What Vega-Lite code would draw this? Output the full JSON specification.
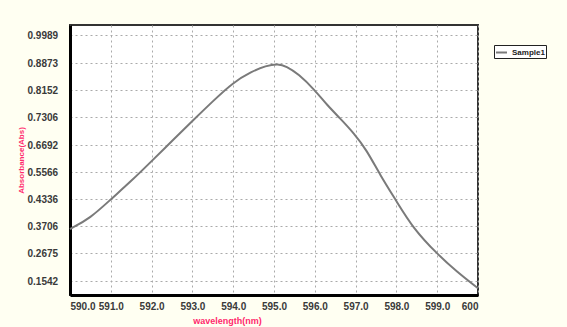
{
  "$schema": "https://vega.github.io/schema/vega-lite/v6.json",
  "width": 408,
  "height": 270,
  "autosize": "none",
  "padding": {"left": 70, "top": 25, "right": 89, "bottom": 32},
  "background": "#fffff2",
  "config": {
    "view": {"fill": "white", "stroke": "#333333", "strokeWidth": 2},
    "font": "Liberation Sans"
  },
  "data": {
    "values": [
      {"wavelength": 590.0, "absorbance": 0.3591, "series": "Sample1"},
      {"wavelength": 590.5, "absorbance": 0.3889, "series": "Sample1"},
      {"wavelength": 591.0, "absorbance": 0.4329, "series": "Sample1"},
      {"wavelength": 591.5, "absorbance": 0.5150, "series": "Sample1"},
      {"wavelength": 592.0, "absorbance": 0.6020, "series": "Sample1"},
      {"wavelength": 592.5, "absorbance": 0.6780, "series": "Sample1"},
      {"wavelength": 593.0, "absorbance": 0.7220, "series": "Sample1"},
      {"wavelength": 593.5, "absorbance": 0.7800, "series": "Sample1"},
      {"wavelength": 594.0, "absorbance": 0.8358, "series": "Sample1"},
      {"wavelength": 594.45, "absorbance": 0.8641, "series": "Sample1"},
      {"wavelength": 594.8, "absorbance": 0.8800, "series": "Sample1"},
      {"wavelength": 595.1, "absorbance": 0.8850, "series": "Sample1"},
      {"wavelength": 595.3, "absorbance": 0.8790, "series": "Sample1"},
      {"wavelength": 595.6, "absorbance": 0.8580, "series": "Sample1"},
      {"wavelength": 596.0, "absorbance": 0.8152, "series": "Sample1"},
      {"wavelength": 596.3, "absorbance": 0.7680, "series": "Sample1"},
      {"wavelength": 596.62, "absorbance": 0.7277, "series": "Sample1"},
      {"wavelength": 596.96, "absorbance": 0.6949, "series": "Sample1"},
      {"wavelength": 597.27, "absorbance": 0.6484, "series": "Sample1"},
      {"wavelength": 597.6, "absorbance": 0.5429, "series": "Sample1"},
      {"wavelength": 598.0, "absorbance": 0.4289, "series": "Sample1"},
      {"wavelength": 598.41, "absorbance": 0.3618, "series": "Sample1"},
      {"wavelength": 599.0, "absorbance": 0.2635, "series": "Sample1"},
      {"wavelength": 599.48, "absorbance": 0.1918, "series": "Sample1"},
      {"wavelength": 600.0, "absorbance": 0.1246, "series": "Sample1"}
    ]
  },
  "mark": {"type": "line", "interpolate": "basis", "strokeWidth": 2},
  "encoding": {
    "x": {
      "field": "wavelength",
      "type": "quantitative",
      "scale": {"domain": [590, 600], "nice": false, "zero": false},
      "axis": {
        "values": [590, 591, 592, 593, 594, 595, 596, 597, 598, 599, 600],
        "labelExpr": "datum.value == 600 ? '600' : format(datum.value, '.1f')",
        "labelFlush": true,
        "labelFontSize": 10,
        "labelFontWeight": "bold",
        "labelColor": "#3a3a3a",
        "labelPadding": 6,
        "ticks": false,
        "domainColor": "#000000",
        "domainWidth": 3,
        "grid": true,
        "gridColor": "#aaaaaa",
        "gridDash": [2, 3],
        "gridWidth": 1,
        "title": "wavelength(nm)",
        "titleColor": "#ff2a6d",
        "titleFontSize": 9,
        "titleFontWeight": "bold",
        "titleX": 157,
        "titleY": 25,
        "titleBaseline": "middle",
        "titleAnchor": "middle"
      }
    },
    "y": {
      "field": "absorbance",
      "type": "quantitative",
      "scale": {
        "type": "linear",
        "domain": [0.0975, 0.1542, 0.2675, 0.3706, 0.4336, 0.5566, 0.6692, 0.7306, 0.8152, 0.8873, 0.9989, 1.0388],
        "range": [270, 256, 228, 201, 174, 147, 120, 92, 65, 38, 10, 0],
        "nice": false,
        "zero": false
      },
      "axis": {
        "values": [0.1542, 0.2675, 0.3706, 0.4336, 0.5566, 0.6692, 0.7306, 0.8152, 0.8873, 0.9989],
        "format": ".4f",
        "labelFontSize": 10,
        "labelFontWeight": "bold",
        "labelColor": "#3a3a3a",
        "labelAlign": "left",
        "labelPadding": 43,
        "ticks": false,
        "domainColor": "#000000",
        "domainWidth": 3,
        "grid": true,
        "gridColor": "#aaaaaa",
        "gridDash": [2, 3],
        "gridWidth": 1,
        "title": "Absorbance(Abs)",
        "titleColor": "#ff2a6d",
        "titleFontSize": 8,
        "titleFontWeight": "bold",
        "titlePadding": 2
      }
    },
    "color": {
      "field": "series",
      "type": "nominal",
      "scale": {"range": ["#7a7a7a"]},
      "legend": {
        "title": null,
        "orient": "none",
        "legendX": 424,
        "legendY": 20,
        "strokeColor": "#222222",
        "fillColor": "#ffffff",
        "padding": 1,
        "cornerRadius": 0,
        "symbolType": "stroke",
        "symbolSize": 120,
        "symbolStrokeWidth": 2,
        "symbolStrokeColor": "#aaaaaa",
        "labelFontSize": 8,
        "labelFontWeight": "bold",
        "labelColor": "#222222"
      }
    }
  }
}
